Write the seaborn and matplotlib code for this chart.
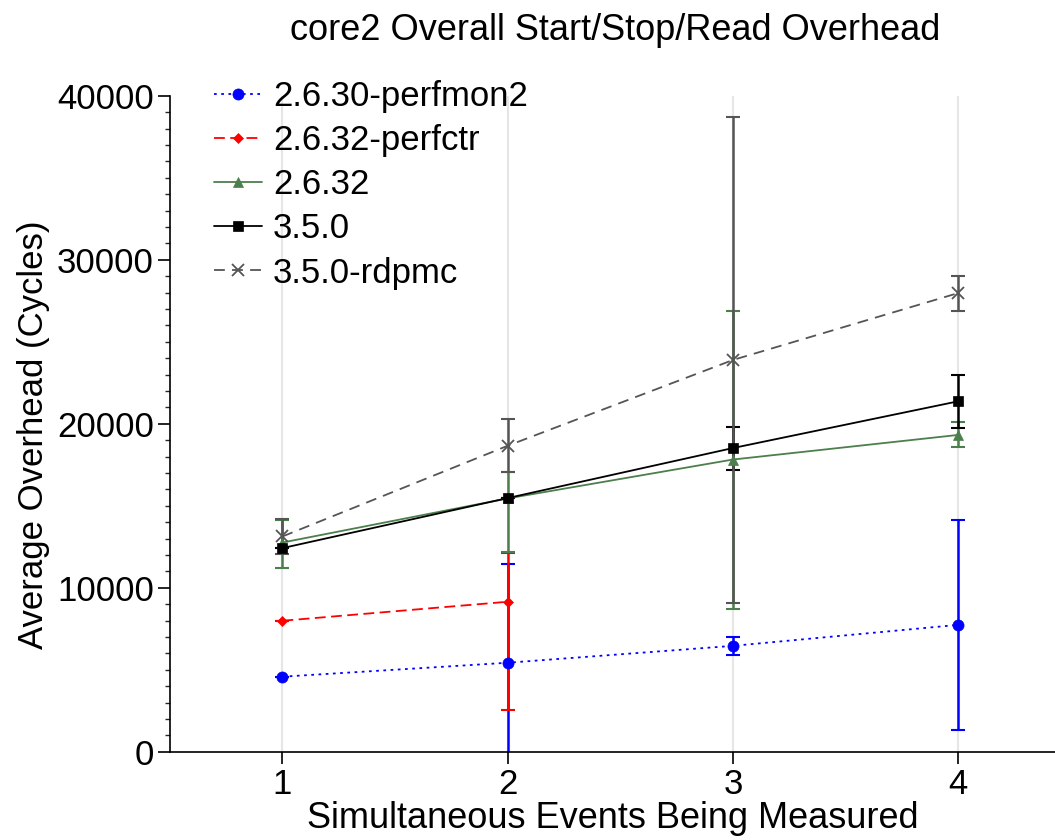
import numpy as np
import pandas as pd
import matplotlib
matplotlib.use("Agg")
import matplotlib.pyplot as plt
import seaborn as sns
from matplotlib.ticker import MultipleLocator

# --- dados ---
eventos = [1, 2, 3, 4]
series = ["2.6.30-perfmon2", "2.6.32-perfctr", "2.6.32", "3.5.0", "3.5.0-rdpmc"]

perfmon2 = [4580, 5430, 6460, 7740]
perfmon2_lo = [4580, -620, 5920, 1340]
perfmon2_hi = [4580, 11480, 6970, 14130]

perfctr = [7990, 9150]
perfctr_lo = [7990, 2520]
perfctr_hi = [7990, 12140]

k2632 = [12760, 15450, 17820, 19320]
k2632_lo = [11180, 12210, 8700, 18570]
k2632_hi = [14150, 17030, 26900, 20120]

k350 = [12420, 15470, 18520, 21370]
k350_lo = [12420, 15470, 17160, 19760]
k350_hi = [12420, 15470, 19800, 23000]

rdpmc = [13130, 18660, 23890, 27970]
rdpmc_lo = [12050, 17030, 9050, 26900]
rdpmc_hi = [14210, 20270, 38730, 29040]

valores = [perfmon2, perfctr, k2632, k350, rdpmc]
inferiores = [perfmon2_lo, perfctr_lo, k2632_lo, k350_lo, rdpmc_lo]
superiores = [perfmon2_hi, perfctr_hi, k2632_hi, k350_hi, rdpmc_hi]

# --- estilos ---
cores = ["#0000ff", "#ff0000", "#4c7f4c", "#000000", "#555555"]
marcadores = ["o", "D", "^", "s", "x"]
tracos = [(1.5, 2.5), (6, 3), "", "", (6, 4)]
tam_marc = [8, 5.5, 7, 7.5, 8]

sns.set_style("white")
plt.rcParams["font.family"] = ["Liberation Sans", "DejaVu Sans"]
plt.rcParams["text.color"] = "black"
plt.rcParams["axes.labelcolor"] = "black"

fig = plt.figure(figsize=(10.55, 8.4), dpi=100)
ax = fig.add_axes([0.161, 0.105, 0.839, 0.781])

for i, nome in enumerate(series):
    n = len(valores[i])
    df = pd.DataFrame({"x": eventos[:n], "y": valores[i]})
    sns.lineplot(
        data=df, x="x", y="y", ax=ax, color=cores[i], marker=marcadores[i],
        markersize=tam_marc[i], markeredgecolor=cores[i],
        markeredgewidth=1.3 if marcadores[i] == "x" else 0.5,
        dashes=False, linewidth=1.3, label=nome, zorder=3,
    )
    linha = ax.get_lines()[-1]
    if tracos[i]:
        linha.set_dashes(tracos[i])
    y = np.array(valores[i])
    yerr = [y - np.array(inferiores[i]), np.array(superiores[i]) - y]
    ax.errorbar(eventos[:n], y, yerr=yerr, fmt="none", ecolor=cores[i],
                elinewidth=1.8, capsize=5, capthick=1.5, zorder=2)

ax.set_xlim(0.5, 4.43)
ax.set_ylim(0, 40000)
ax.set_xticks(eventos)
ax.yaxis.set_major_locator(MultipleLocator(10000))
ax.yaxis.set_minor_locator(MultipleLocator(1000))
ax.tick_params(axis="both", which="major", labelsize=25, length=8.5, width=1.2,
               direction="out", left=True, bottom=True, colors="black", pad=3)
ax.tick_params(axis="y", which="minor", length=3.5, width=1.0, direction="out", left=True)

ax.grid(axis="x", color="#e6e6e6", linewidth=1.5)
ax.grid(axis="y", visible=False)
for lado in ["top", "right"]:
    ax.spines[lado].set_visible(False)
for lado in ["left", "bottom"]:
    ax.spines[lado].set_color("black")
    ax.spines[lado].set_linewidth(1.2)

ax.set_xlabel("Simultaneous Events Being Measured", fontsize=26, labelpad=0)
ax.set_ylabel("Average Overhead (Cycles)", fontsize=25)
ax.yaxis.set_label_coords(-0.135, 0.483)
fig.suptitle("core2 Overall Start/Stop/Read Overhead", fontsize=26, y=0.985, x=0.583)

ax.legend(loc="upper left", bbox_to_anchor=(0.034, 1.045), frameon=False,
          fontsize=25, handlelength=1.4, handletextpad=0.3, labelspacing=0.32,
          borderaxespad=0)

fig.savefig("out.png", dpi=100)
